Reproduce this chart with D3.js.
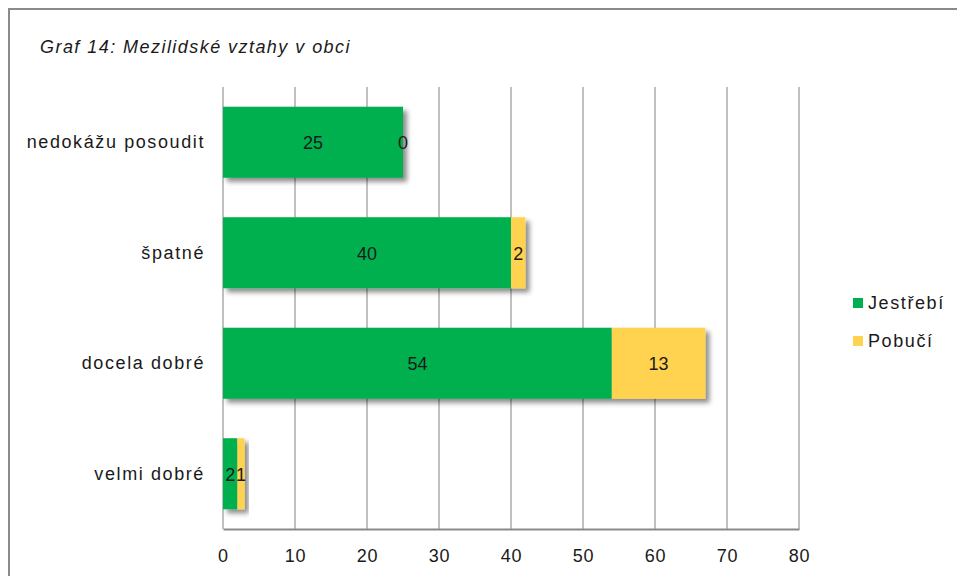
<!DOCTYPE html>
<html><head><meta charset="utf-8">
<script src="https://cdn.jsdelivr.net/npm/d3@7"></script>
<style>body{margin:0;background:#fff}svg{display:block;font-family:"Liberation Sans",Arial,sans-serif}</style>
</head><body>
<script>
const categories = ["nedokážu posoudit", "špatné", "docela dobré", "velmi dobré"];
const seriesNames = ["Jestřebí", "Pobučí"];
const jestrebi = [25, 40, 54, 2];
const pobuci = [0, 2, 13, 1];
const xTicks = [0, 10, 20, 30, 40, 50, 60, 70, 80];
const colors = ["#00B050", "#FFD34F"];
const title = "Graf 14: Mezilidské vztahy v obci";

const W = 957, H = 576;
const m = {left: 223, right: 799, top: 87, bottom: 529};
const svg = d3.select("body").append("svg").attr("width", W).attr("height", H);

const defs = svg.append("defs");
const f = defs.append("filter").attr("id", "sh").attr("x", "-10%").attr("y", "-10%").attr("width", "130%").attr("height", "140%");
f.append("feDropShadow").attr("dx", 4).attr("dy", 4).attr("stdDeviation", 2.5).attr("flood-color", "#000").attr("flood-opacity", 0.45);

svg.append("rect").attr("x", 9).attr("y", 9).attr("width", 1100).attr("height", 1100)
  .attr("fill", "#fff").attr("stroke", "#8a8a8a").attr("stroke-width", 2);

svg.append("text").attr("x", 40).attr("y", 53).attr("font-size", 18).attr("font-style", "italic")
  .attr("letter-spacing", 1.45).attr("fill", "#1a1a1a").text(title);

const x = d3.scaleLinear().domain([0, 80]).range([m.left, m.right]);
const y = d3.scaleBand().domain(categories).range([m.top, m.bottom]).paddingInner(0.357).paddingOuter(0.1785);

// gridlines
svg.append("g").selectAll("line").data(xTicks).join("line")
  .attr("x1", d => x(d)).attr("x2", d => x(d)).attr("y1", m.top).attr("y2", m.bottom)
  .attr("stroke", "#a0a0a0").attr("stroke-width", 1.3);

// x axis
const xAxis = svg.append("g").attr("transform", `translate(0,${m.bottom})`)
  .call(d3.axisBottom(x).tickValues(xTicks).tickSize(0).tickPadding(20).tickFormat(d3.format("d")));
xAxis.select(".domain").attr("stroke", "#8a8a8a").attr("stroke-width", 2);
xAxis.selectAll("text").attr("font-size", 18).attr("fill", "#1a1a1a").attr("font-family", "Liberation Sans, Arial, sans-serif").attr("letter-spacing", 0.8);

// y labels
svg.append("g").selectAll("text").data(categories).join("text")
  .attr("x", 205).attr("y", d => y(d) + y.bandwidth() / 2 + 6)
  .attr("text-anchor", "end").attr("font-size", 18).attr("letter-spacing", 1.6).attr("fill", "#1a1a1a").text(d => d);

const rows = categories.map((c, i) => ({cat: c, vals: [jestrebi[i], pobuci[i]]}));
const rowG = svg.append("g").selectAll("g").data(rows).join("g").attr("filter", "url(#sh)");
rowG.each(function(r) {
  let acc = 0;
  const segs = r.vals.map((v, k) => { const s = {x0: acc, x1: acc + v, v, k, cat: r.cat}; acc += v; return s; });
  d3.select(this).selectAll("rect").data(segs).join("rect")
    .attr("x", d => x(d.x0)).attr("width", d => x(d.x1) - x(d.x0))
    .attr("y", y(r.cat)).attr("height", y.bandwidth()).attr("fill", d => colors[d.k]);
});
// labels
rows.forEach(r => {
  let acc = 0;
  r.vals.forEach((v, k) => {
    svg.append("text").attr("x", x(acc + v / 2)).attr("y", y(r.cat) + y.bandwidth() / 2 + 7)
      .attr("text-anchor", "middle").attr("font-size", 18).attr("fill", "#1a1a1a").text(v);
    acc += v;
  });
});

// legend
const lg = svg.append("g");
seriesNames.forEach((s, i) => {
  const yy = 298 + i * 38;
  lg.append("rect").attr("x", 853).attr("y", yy).attr("width", 10).attr("height", 10).attr("fill", colors[i]);
  lg.append("text").attr("x", 868).attr("y", yy + 11).attr("font-size", 18).attr("letter-spacing", 1.6).attr("fill", "#1a1a1a").text(s);
});
</script>
</body></html>
